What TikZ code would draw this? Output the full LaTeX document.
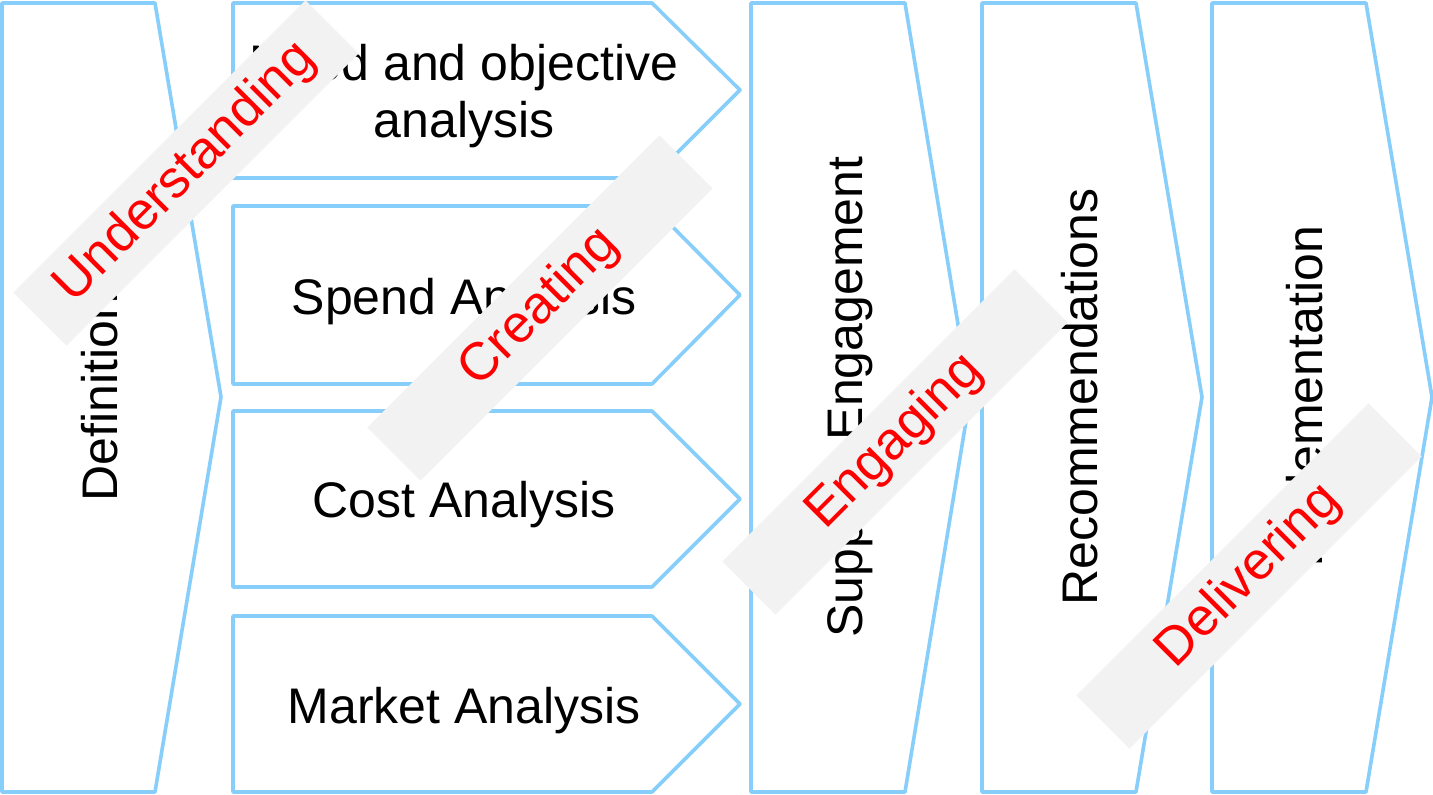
\documentclass[tikz,border=0pt]{standalone}
\usepackage{fontspec}
\setmainfont{Liberation Sans}
\definecolor{skyline}{HTML}{87CEFA}
\definecolor{bannergray}{HTML}{F2F2F2}
\begin{document}
\begin{tikzpicture}[x=1pt,y=-1pt,
  shp/.style={draw=skyline, line width=3.6pt, fill=white, line join=round},
  lbl/.style={font=\fontsize{50}{57}\selectfont, text=black, inner sep=0pt, align=center},
  vlbl/.style={lbl, rotate=90},
  banner/.style={fill=bannergray, minimum width=413pt, minimum height=75pt, rotate=45,
    inner sep=0pt, text=red, font=\fontsize{53}{60}\selectfont}]
\useasboundingbox (0,0) rectangle (1433,795);
% tall chevrons
\draw[shp] (2,3) -- (155,3) -- (221,397) -- (155,792) -- (2,792) -- cycle;
\draw[shp] (751,3) -- (905,3) -- (970,397) -- (905,792) -- (751,792) -- cycle;
\draw[shp] (982,3) -- (1136,3) -- (1202,397) -- (1136,792) -- (982,792) -- cycle;
\draw[shp] (1212,3) -- (1366,3) -- (1432,397) -- (1366,792) -- (1212,792) -- cycle;
% horizontal arrows
\draw[shp] (233,3) -- (652,3) -- (740,90) -- (652,178) -- (233,178) -- cycle;
\draw[shp] (233,206) -- (652,206) -- (740,295) -- (652,384) -- (233,384) -- cycle;
\draw[shp] (233,411) -- (652,411) -- (740,499) -- (652,587) -- (233,587) -- cycle;
\draw[shp] (233,616) -- (652,616) -- (740,704) -- (652,792) -- (233,792) -- cycle;
% labels
\node[vlbl] (def) at (100,397) {Definition};
\node[vlbl] (sup) at (850,397) {Supplier Engagement};
\node[vlbl] (rec) at (1080,397) {Recommendations};
\node[vlbl] (imp) at (1310,397) {Implementation};
\node[lbl] (need) at (464,96) {Need and objective\\analysis};
\node[lbl] (spend) at (464,302) {Spend Analysis};
\node[lbl] (cost) at (464,505) {Cost Analysis};
\node[lbl] (market) at (464,711) {Market Analysis};
% banners
\node[banner] (und) at (186,173) {Understanding};
\node[banner] (cre) at (540,308) {Creating};
\node[banner] (eng) at (895,442) {Engaging};
\node[banner] (del) at (1249,576) {Delivering};
\end{tikzpicture}
\end{document}
